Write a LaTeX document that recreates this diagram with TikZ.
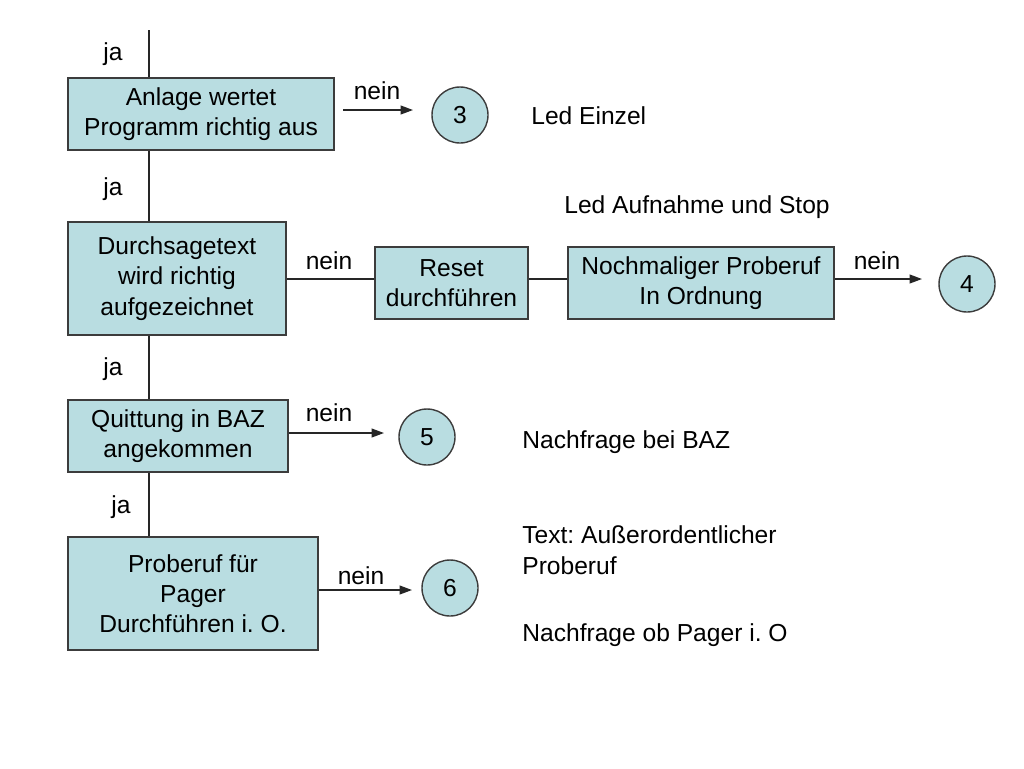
\documentclass[tikz,border=0pt]{standalone}
\usepackage{fontspec}
\setmainfont{Liberation Sans}
\usetikzlibrary{arrows.meta}
\definecolor{boxfill}{RGB}{185,221,225}
\definecolor{boxline}{RGB}{60,60,60}
\frenchspacing
\begin{document}
\begin{tikzpicture}[x=0.02cm,y=-0.02cm,
  font=\frenchspacing\fontsize{14}{17.2}\selectfont,
  box/.style={draw=boxline,line width=0.8pt,fill=boxfill,align=center,inner sep=0pt},
  num/.style={draw=boxline,line width=0.8pt,fill=boxfill,circle,minimum size=56*0.02cm,inner sep=0pt},
  conn/.style={line width=0.8pt,draw=black!85},
  arr/.style={conn,-{Triangle[length=7pt,width=5pt]}},
  lbl/.style={inner sep=0pt,anchor=base},
  txt/.style={inner sep=0pt,anchor=base west,align=left}]
\useasboundingbox (0,0) rectangle (1024,768);
% boxes
\node[box,minimum width=266*0.02cm,minimum height=72*0.02cm] (b1) at (201,114) {\raisebox{-2pt}{}Anlage wertet\\Programm richtig aus};
\node[box,minimum width=218*0.02cm,minimum height=113*0.02cm] (b2) at (177,278.5) {Durchsagetext\\wird richtig\\aufgezeichnet};
\node[box,minimum width=153*0.02cm,minimum height=72*0.02cm] (reset) at (451.5,283) {Reset\\durchführen};
\node[box,minimum width=266*0.02cm,minimum height=72*0.02cm] (noch) at (701,283) {Nochmaliger Proberuf\\In Ordnung};
\node[box,minimum width=220*0.02cm,minimum height=72*0.02cm] (b3) at (178,436) {Quittung in BAZ\\angekommen};
\node[box,minimum width=250*0.02cm,minimum height=113*0.02cm] (b4) at (193,593.5) {Proberuf für\\Pager\\Durchführen i. O.};
% circles
\node[num] (c3) at (460,115) {3};
\node[num] (c4) at (967,284) {4};
\node[num] (c5) at (427,437) {5};
\node[num] (c6) at (450,588) {6};
% main vertical line
\coordinate (top) at (149,30);
\draw[conn] (top) -- (top |- b1.north);
\draw[conn] (b1.south -| top) -- (b2.north -| top);
\draw[conn] (b2.south -| top) -- (b3.north -| top);
\draw[conn] (b3.south -| top) -- (b4.north -| top);
% nein connectors
\coordinate (a1s) at (343,110);
\coordinate (a1e) at (413,110);
\draw[arr] (a1s) -- (a1e);
\coordinate (l2) at (286,279);
\draw[conn] (b2.east |- l2) -- (reset.west |- l2);
\draw[conn] (reset.east |- l2) -- (noch.west |- l2);
\coordinate (a4e) at (922,279);
\draw[arr] (noch.east |- a4e) -- (a4e);
\coordinate (a5e) at (384,433);
\draw[arr] (b3.east |- a5e) -- (a5e);
\coordinate (a6e) at (412,590);
\draw[arr] (b4.east |- a6e) -- (a6e);
% labels
\node[lbl] (ja1) at (113,60) {ja};
\node[lbl] (ja2) at (113,195) {ja};
\node[lbl] (ja3) at (113,375) {ja};
\node[lbl] (ja4) at (121,513) {ja};
\node[lbl] (n1) at (377,99) {nein};
\node[lbl] (n2) at (329,269) {nein};
\node[lbl] (n4) at (877,269) {nein};
\node[lbl] (n5) at (329,421) {nein};
\node[lbl] (n6) at (361,584) {nein};
% side texts
\node[txt] (t3) at (531,124) {Led Einzel};
\node[txt] (t4) at (564,213) {Led Aufnahme und Stop};
\node[txt] (t5) at (522,448) {Nachfrage bei BAZ};
\node[txt] (t6a) at (522,543) {Text: Außerordentlicher};
\node[txt] (t6b) at (522,574) {Proberuf};
\node[txt] (t6c) at (522,641) {Nachfrage ob Pager i. O};
\end{tikzpicture}
\end{document}
